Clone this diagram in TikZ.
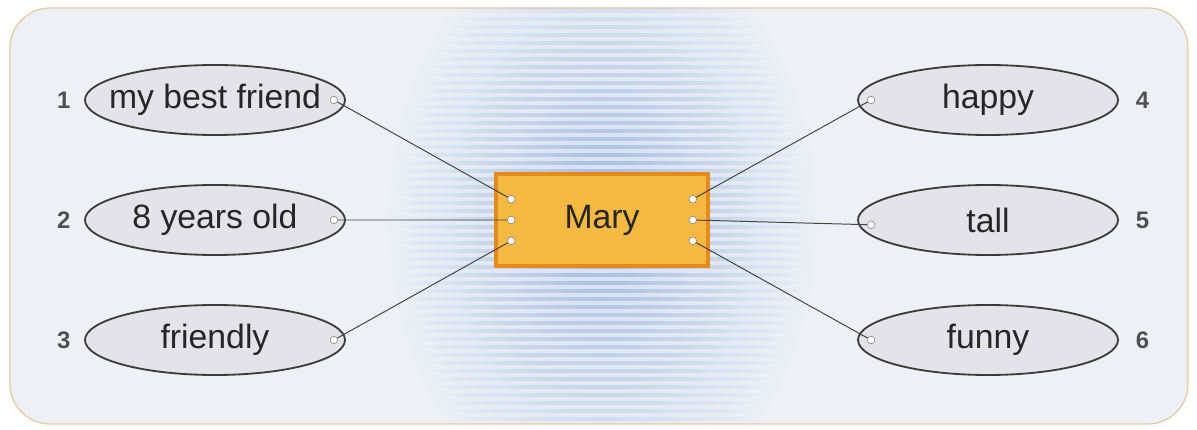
\documentclass[tikz,border=0pt]{standalone}
\usepackage{fontspec}
\setmainfont{Liberation Sans}
\usetikzlibrary{shapes.geometric, positioning, calc}
\definecolor{framecol}{HTML}{E8C8A0}
\definecolor{bgcol}{HTML}{EDF1F6}
\definecolor{glowcol}{HTML}{9DB7E0}
\definecolor{ovalfill}{HTML}{E3E3E9}
\definecolor{ringgray}{HTML}{3C3C3C}
\definecolor{boxfill}{HTML}{F4B943}
\definecolor{boxedge}{HTML}{E8891C}
\definecolor{linkgray}{HTML}{444444}
\definecolor{numgray}{HTML}{505050}
\tikzstyle{trait} = [
    ellipse,
    minimum width=6.5cm,
    minimum height=1.75cm,
    draw=ringgray,
    line width=1.3pt,
    fill=ovalfill,
    text=black!85,
    font=\fontsize{24}{26}\selectfont
]
\tikzstyle{namebox} = [
    rectangle,
    minimum width=5.3cm,
    minimum height=2.3cm,
    draw=boxedge,
    line width=2.2pt,
    fill=boxfill,
    text=black!85,
    font=\fontsize{24}{26}\selectfont
]
\tikzstyle{hole} = [
    circle,
    inner sep=0pt,
    minimum size=0.19cm,
    fill=white,
    draw=gray,
    line width=0.4pt
]
\tikzstyle{num} = [font=\bfseries\fontsize{17}{18}\selectfont, text=numgray]
\tikzstyle{link} = [draw=linkgray, line width=0.7pt]
\tikzstyle{stripe} = [left color=bgcol, middle color=white, right color=bgcol, opacity=0.7]
\newcommand{\ovaltext}[1]{\makebox[3.5cm]{#1}}
\begin{document}
\begin{tikzpicture}[node distance=3cm]
\useasboundingbox (0,0) rectangle (29.925,-10.75);

% background panel with blue glow and stripes
\fill[bgcol, rounded corners=1cm] (0.25,-0.2) rectangle (29.7,-10.6);
\begin{scope}
\clip[rounded corners=1cm] (0.25,-0.2) rectangle (29.7,-10.6);
\shade[inner color=glowcol, outer color=bgcol] (15.05,-5.5) ellipse (5.4cm and 7.5cm);
\foreach \y in {0.35,0.55,...,10.6}
    \shade[stripe] (8.8,-\y) rectangle (21.3,-\y-0.07);
\end{scope}
\draw[framecol, line width=0.9pt, rounded corners=1cm] (0.25,-0.2) rectangle (29.7,-10.6);

% left column
\node (friend) [trait] at (5.375,-2.5) {\ovaltext{my best friend}};
\node (age) [trait, below of=friend] {\ovaltext{8 years old}};
\node (kind) [trait, below of=age] {\ovaltext{friendly}};

% right column
\node (happy) [trait] at (24.7,-2.5) {\ovaltext{happy}};
\node (tall) [trait, below of=happy] {\ovaltext{tall}};
\node (funny) [trait, below of=tall] {\ovaltext{funny}};

% centre box
\node (mary) [namebox] at (15.05,-5.5) {Mary};

% numbers
\node [num, left=0.22cm of friend] {1};
\node [num, left=0.22cm of age] {2};
\node [num, left=0.22cm of kind] {3};
\node [num, right=0.3cm of happy] {4};
\node [num, right=0.3cm of tall] {5};
\node [num, right=0.3cm of funny] {6};

% holes
\node (hfriend) [hole] at ($(friend.east)+(-0.3,0)$) {};
\node (hage) [hole] at ($(age.east)+(-0.3,0)$) {};
\node (hkind) [hole] at ($(kind.east)+(-0.3,0)$) {};
\node (hhappy) [hole] at ($(happy.west)+(0.35,0)$) {};
\node (htall) [hole] at ($(tall.west)+(0.35,-0.12)$) {};
\node (hfunny) [hole] at ($(funny.west)+(0.35,0)$) {};
\node (ml1) [hole] at ($(mary.west)+(0.42,0.52)$) {};
\node (ml2) [hole] at ($(mary.west)+(0.42,0)$) {};
\node (ml3) [hole] at ($(mary.west)+(0.42,-0.52)$) {};
\node (mr1) [hole] at ($(mary.east)+(-0.42,0.52)$) {};
\node (mr2) [hole] at ($(mary.east)+(-0.42,0)$) {};
\node (mr3) [hole] at ($(mary.east)+(-0.42,-0.52)$) {};

% connectors
\draw [link] (hfriend) -- (ml1);
\draw [link] (hage) -- (ml2);
\draw [link] (hkind) -- (ml3);
\draw [link] (mr1) -- (hhappy);
\draw [link] (mr2) -- (htall);
\draw [link] (mr3) -- (hfunny);

\end{tikzpicture}
\end{document}
